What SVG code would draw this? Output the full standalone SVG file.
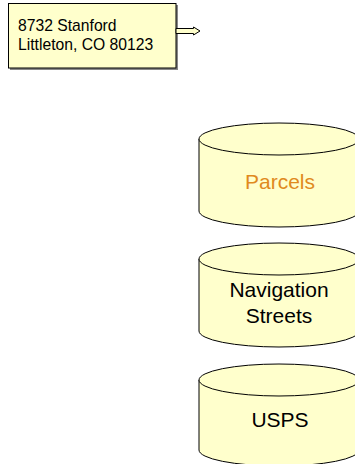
<svg xmlns="http://www.w3.org/2000/svg" width="355" height="464" viewBox="0 0 355 464">
<style>
.shape{fill:#FFFFCC;stroke:#000;stroke-width:1}
.t{font-family:"Liberation Sans",Arial,sans-serif;fill:#000}
.addr{font-size:15.7px}
.db{font-size:21px;text-anchor:middle}
</style>
<rect width="355" height="464" fill="#fff"/>
<g id="address">
<rect x="10" y="5" width="168" height="65" fill="#888"/>
<rect x="8.5" y="3.5" width="167.5" height="64.5" class="shape"/>
<text class="t addr" x="18" y="31">8732 Stanford</text>
<text class="t addr" x="18" y="50">Littleton, CO 80123</text>
</g>
<g id="connectors">
<path d="M176,28.5 L193.5,28.5 L193.5,27 L200,31 L193.5,35 L193.5,33.5 L176,33.5 Z" class="shape"/>
</g>
<g id="parcels">
<path d="M199,139 L199,211 A80,16 0 0 0 359,211 L359,139" class="shape"/>
<ellipse cx="279" cy="139" rx="80" ry="16" class="shape"/>
<text class="t db" x="280" y="189" style="fill:#E08A1E">Parcels</text>
</g>
<g id="navigation">
<path d="M199,259 L199,331 A80,16 0 0 0 359,331 L359,259" class="shape"/>
<ellipse cx="279" cy="259" rx="80" ry="16" class="shape"/>
<text class="t db" x="279" y="297">Navigation</text>
<text class="t db" x="279" y="323">Streets</text>
</g>
<g id="usps">
<path d="M199,380 L199,450 A80,16 0 0 0 359,450 L359,380" class="shape"/>
<ellipse cx="279" cy="380" rx="80" ry="16" class="shape"/>
<text class="t db" x="280" y="427">USPS</text>
</g>
</svg>
